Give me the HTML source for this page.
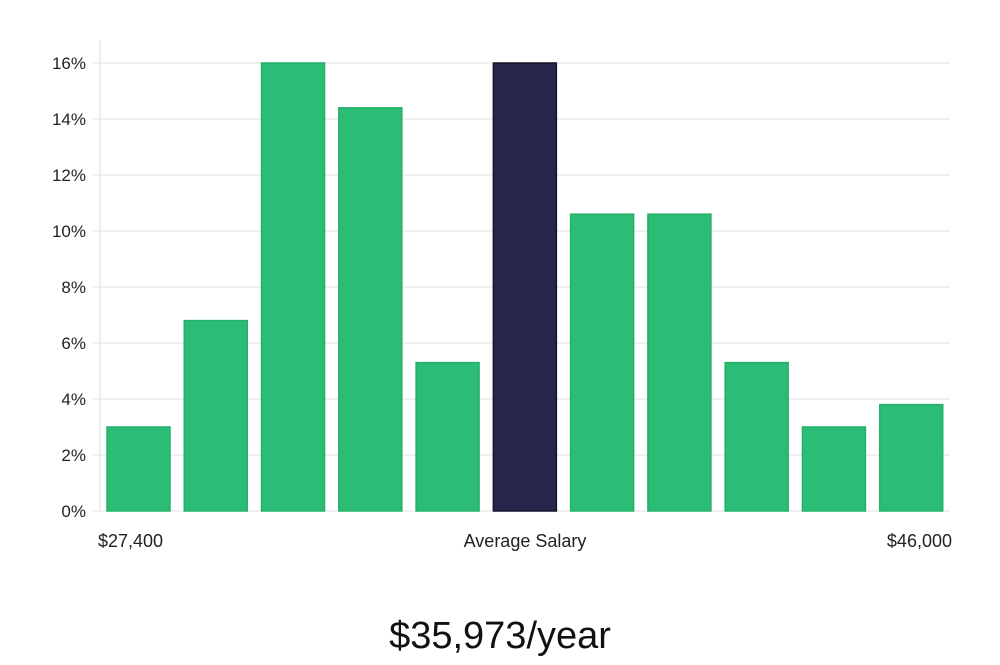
<!DOCTYPE html>
<html><head><meta charset="utf-8"><style>
body{margin:0;background:#fff;width:1000px;height:660px;overflow:hidden;font-family:"Liberation Sans","DejaVu Sans",sans-serif}
</style></head><body>
<svg id="chart" width="1000" height="660" xmlns="http://www.w3.org/2000/svg">
<g id="grid"></g><g id="bars"></g><g id="labels"></g>
<text x="98" y="547" font-size="18" fill="#222">$27,400</text>
<text x="525" y="547" font-size="18" fill="#222" text-anchor="middle">Average Salary</text>
<text x="952" y="547" font-size="18" fill="#222" text-anchor="end">$46,000</text>
<text x="500" y="648" font-size="38" fill="#111" text-anchor="middle" font-weight="300">$35,973/year</text>
</svg>
<script>
const categories=["b1","b2","b3","b4","b5","b6","b7","b8","b9","b10","b11"];
const values=[3.0,6.8,16,14.4,5.3,16,10.6,10.6,5.3,3.0,3.8];
const highlightIndex=5;
const yTicks=[0,2,4,6,8,10,12,14,16];
const ns="http://www.w3.org/2000/svg";
const x0=100,x1=950,y0=511,pxPer=28;
const y=v=>y0-v*pxPer;
const slot=(x1-x0)/categories.length;
const grid=document.getElementById('grid'),bars=document.getElementById('bars'),labels=document.getElementById('labels');
const ax=document.createElementNS(ns,'line');


ax.setAttribute('x1',x0);ax.setAttribute('x2',x0);ax.setAttribute('y1',40);ax.setAttribute('y2',y0);ax.setAttribute('stroke','#ddd');
grid.appendChild(ax);
yTicks.forEach(t=>{
 const l=document.createElementNS(ns,'line');
 
 
 l.setAttribute('x1',x0-8);l.setAttribute('x2',x1);l.setAttribute('y1',y(t));l.setAttribute('y2',y(t));l.setAttribute('stroke','#e2e2e2');
 grid.appendChild(l);
 const tx=document.createElementNS(ns,'text');
 
 
 tx.setAttribute('x',86);tx.setAttribute('y',y(t)+6);tx.setAttribute('text-anchor','end');tx.setAttribute('font-size','17');tx.setAttribute('fill','#222');
 tx.textContent=t+'%';labels.appendChild(tx);
});
values.forEach((v,i)=>{
 const r=document.createElementNS(ns,'rect');
 
 
 r.setAttribute('x',x0+i*slot+7);r.setAttribute('width',63);
 r.setAttribute('y',y(v));r.setAttribute('height',y0-y(v));
 const hi=i===highlightIndex;
 r.setAttribute('fill',hi?'#28254a':'#2bbd75');r.setAttribute('stroke',hi?'#15132e':'#25b06a');r.setAttribute('stroke-width','1.5');
 bars.appendChild(r);
});
</script>
</body></html>
